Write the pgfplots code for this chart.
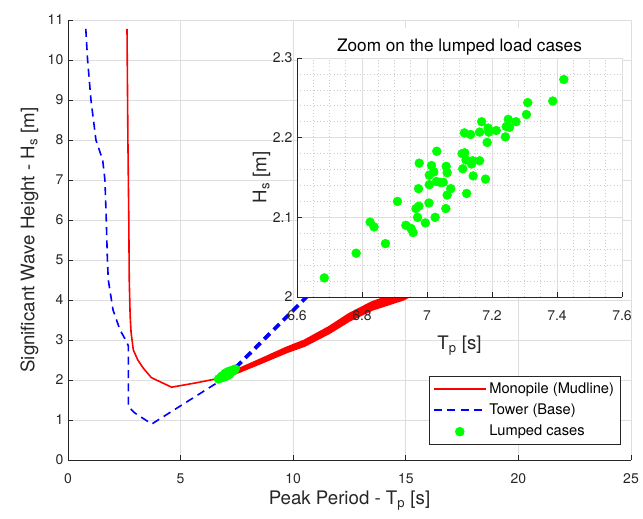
\documentclass[border=0pt]{standalone}
\usepackage{fontspec}
\setmainfont{TeX Gyre Heros}
\usepackage{pgfplots}
\usepackage{pgfplotstable}
\pgfplotsset{compat=1.18}
\definecolor{gridc}{gray}{0.87}
\definecolor{mgridc}{gray}{0.80}
\definecolor{axc}{gray}{0.15}
\definecolor{mred}{rgb}{1,0,0}
\definecolor{mblue}{rgb}{0,0,1}
\definecolor{mgreen}{rgb}{0,1,0}

\pgfplotstableread{
x y
6.684 2.024
6.782 2.055
6.825 2.094
6.837 2.088
6.872 2.067
6.909 2.120
6.935 2.090
6.951 2.086
6.957 2.081
6.966 2.111
6.971 2.100
6.975 2.114
6.974 2.136
6.976 2.168
6.995 2.093
7.006 2.118
7.007 2.141
7.007 2.153
7.014 2.165
7.021 2.157
7.025 2.100
7.029 2.145
7.030 2.183
7.040 2.144
7.050 2.144
7.059 2.164
7.062 2.156
7.062 2.128
7.058 2.111
7.073 2.136
7.108 2.180
7.110 2.161
7.115 2.206
7.116 2.181
7.120 2.172
7.122 2.130
7.134 2.204
7.137 2.167
7.140 2.171
7.142 2.152
7.162 2.171
7.162 2.207
7.168 2.220
7.180 2.148
7.185 2.194
7.188 2.212
7.190 2.207
7.213 2.209
7.241 2.201
7.244 2.214
7.250 2.223
7.254 2.213
7.274 2.220
7.306 2.229
7.310 2.244
7.387 2.246
7.421 2.273
}\lumped

\begin{document}
\begin{tikzpicture}
\path[use as bounding box] (0,0) rectangle (482.25pt,388.5pt);
\begin{axis}[
  at={(51pt,43.5pt)}, anchor=south west,
  scale only axis, width=422.25pt, height=330pt,
  xmin=0, xmax=25, ymin=0, ymax=11,
  xtick={0,5,...,25}, ytick={0,1,...,11},
  axis x line*=bottom, axis y line*=left,
  axis line style={-, axc, line width=0.6pt},
  tick align=inside, major tick length=4pt,
  every tick/.style={axc, line width=0.6pt},
  grid=major, major grid style={gridc, line width=0.6pt},
  /pgf/number format/assume math mode=true,
  tick label style={font=\fontsize{10.5}{12}\selectfont, text=axc},
  label style={font=\fontsize{14}{16}\selectfont, text=axc},
  xticklabel shift=7pt,
  xlabel shift=-2pt,
  xlabel={Peak Period - T\textsubscript{p} [s]},
  ylabel={Significant Wave Height - H\textsubscript{s} [m]},
  legend style={at={(1,0)}, anchor=south east, xshift=-7.5pt, yshift=11.25pt,
    draw=axc, line width=0.5pt, font=\fontsize{11}{12.5}\selectfont,
    cells={anchor=west}, row sep=2.5pt, inner xsep=3pt, inner ysep=3pt},
  legend image code/.code={\draw[mark repeat=2,mark phase=2] plot coordinates {(0pt,0pt)(19.5pt,0pt)(39pt,0pt)};},
]
\addlegendimage{mred, line width=1.2pt}
\addlegendentry{Monopile (Mudline)}
\addlegendimage{mblue, line width=1.2pt, dash pattern=on 6pt off 4pt}
\addlegendentry{Tower (Base)}
\addlegendimage{only marks, mark=*, mark size=3.3pt, mgreen, mark options={draw=mgreen, fill=mgreen}}
\addlegendentry{Lumped cases}

\addplot[only marks, mark=*, mark size=3.3pt, color=mgreen, mark options={draw=mgreen, fill=mgreen}, forget plot] table[x=x,y=y] {\lumped};

% Monopile thin part
\addplot[mred, line width=1.2pt, forget plot] coordinates {
(2.62,10.78) (2.66,8) (2.70,6) (2.72,4.5) (2.76,3.6) (2.80,3.2) (2.90,2.75) (3.10,2.50) (3.35,2.29) (3.70,2.06) (4.60,1.82) (5.70,1.93) (6.60,2.03) (7.10,2.10)};
% Monopile thick band (several overlapping cases)
\addplot[mred, line width=2.4pt, forget plot] coordinates {
(7.1,2.12) (7.6,2.24) (8.6,2.48) (9.7,2.75) (10.5,2.92) (11.6,3.25) (12.5,3.57) (13.5,3.85) (14.9,4.12) (15.6,4.35)};
\addplot[mred, line width=2.4pt, forget plot] coordinates {
(7.1,2.14) (7.6,2.265) (8.6,2.514) (9.7,2.794) (10.5,2.972) (11.6,3.312) (12.5,3.641) (13.5,3.930) (14.9,4.213) (15.6,4.45)};
\addplot[mred, line width=2.4pt, forget plot] coordinates {
(7.1,2.13) (7.6,2.253) (8.6,2.497) (9.7,2.772) (10.5,2.946) (11.6,3.281) (12.5,3.606) (13.5,3.890) (14.9,4.167) (15.6,4.40)};
\addplot[mred, line width=2.4pt, forget plot] coordinates {
(7.1,2.11) (7.6,2.228) (8.6,2.463) (9.7,2.728) (10.5,2.894) (11.6,3.219) (12.5,3.535) (13.5,3.810) (14.9,4.074) (15.6,4.30)};
\addplot[mred, line width=2.4pt, forget plot] coordinates {
(7.1,2.10) (7.6,2.215) (8.6,2.446) (9.7,2.706) (10.5,2.868) (11.6,3.188) (12.5,3.500) (13.5,3.770) (14.9,4.027) (15.8,4.30)};

% Tower thin part
\addplot[mblue, line width=1.2pt, dash pattern=on 6pt off 4pt, forget plot] coordinates {
(0.79,10.78) (0.87,10) (1.02,9) (1.24,8) (1.54,7.5) (1.64,7) (1.70,6) (1.75,5) (1.79,4.5) (2.0,3.75) (2.31,3.25) (2.60,2.96) (2.68,2.85) (2.68,1.33) (2.98,1.17) (3.72,0.90) (7.04,2.08)};
% Tower thick part
\addplot[mblue, line width=2.8pt, dash pattern=on 6pt off 4pt, forget plot] coordinates {
(7.04,2.08) (8.8,3.07) (10.6,4.08) (11.2,4.4)};
\end{axis}

\begin{axis}[
  at={(222.75pt,165.75pt)}, anchor=south west,
  scale only axis, width=243.75pt, height=179.25pt,
  xmin=6.6, xmax=7.6, ymin=2, ymax=2.3,
  xtick={6.6,6.8,7,7.2,7.4,7.6}, ytick={2,2.1,2.2,2.3},
  minor x tick num=3, minor y tick num=4,
  minor tick length=0pt,
  axis x line*=bottom, axis y line*=left,
  axis line style={-, axc, line width=0.6pt},
  tick align=inside, major tick length=4pt,
  every tick/.style={axc, line width=0.6pt},
  grid=both, major grid style={gridc, line width=0.6pt},
  minor grid style={mgridc, line width=0.5pt, dotted},
  axis background/.style={fill=white},
  /pgf/number format/assume math mode=true,
  tick label style={font=\fontsize{10.5}{12}\selectfont, text=axc},
  label style={font=\fontsize{14}{16}\selectfont, text=axc},
  xticklabel shift=7pt,
  xlabel shift=4pt,
  ylabel shift=-5pt,
  title={Zoom on the lumped load cases},
  title style={font=\fontsize{12.9}{14}\selectfont, fill=white, at={(0.5,1)}, anchor=south,
    yshift=-6pt, inner xsep=8pt, inner ysep=0pt, text height=17pt, text depth=5pt},
  xlabel={T\textsubscript{p} [s]},
  ylabel={H\textsubscript{s} [m]},
]
\addplot[only marks, mark=*, mark size=3.3pt, color=mgreen, mark options={draw=mgreen, fill=mgreen}] table[x=x,y=y] {\lumped};
\end{axis}
\end{tikzpicture}
\end{document}
